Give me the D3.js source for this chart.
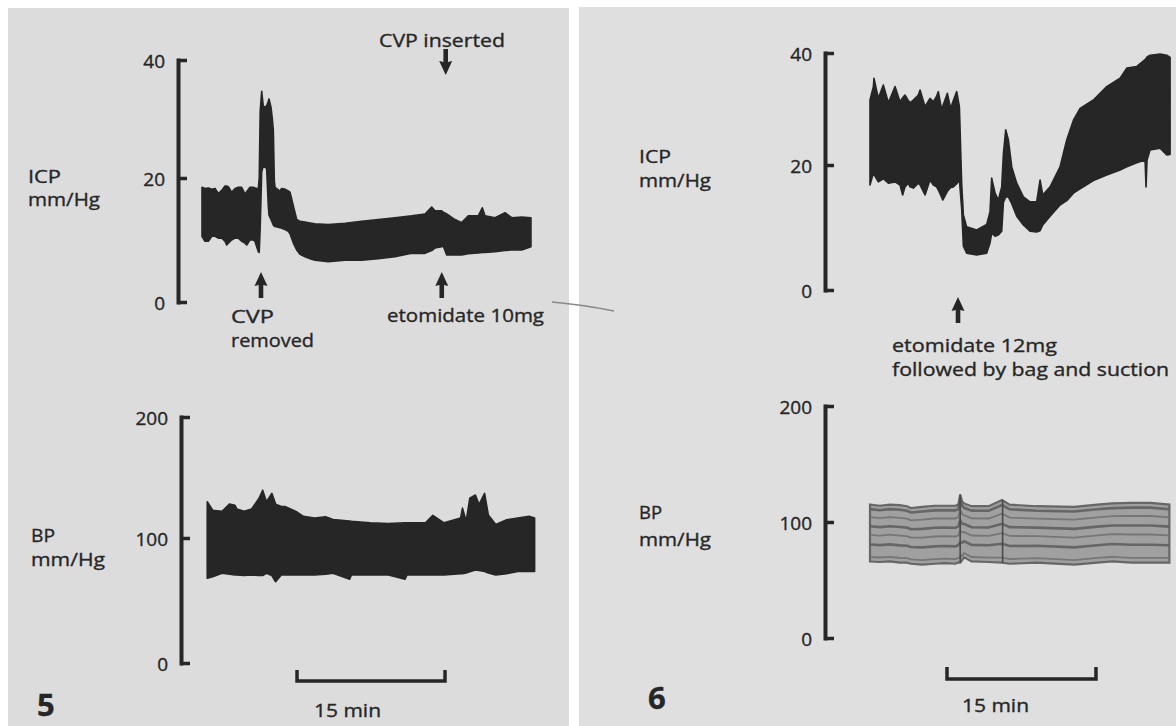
<!DOCTYPE html>
<html><head><meta charset="utf-8">
<script src="https://cdn.jsdelivr.net/npm/d3@7"></script>
<style>
body{margin:0;background:#fff}
svg{display:block}
text{font-family:"Open Sans","DejaVu Sans",sans-serif;fill:#262626;stroke:#262626;stroke-width:0.35px}
</style>
</head><body>
<svg id="c" width="1176" height="726"></svg>
<script>
// ---------------- DATA ----------------
const ICP_TICKS = [0, 20, 40];
const BP_TICKS = [0, 100, 200];
const SCALE_BAR_MIN = 15;

// Figure 5 – ICP envelope: [time (min), low, high] mm Hg
const icp5 = [
 [0.00,10.6,18.5],[0.30,9.8,18.3],[0.64,9.8,18.4],[1.00,10.6,18.2],[1.32,10.6,18.3],
 [1.65,10.3,17.5],[2.00,10.3,18.0],[2.33,9.8,18.7],[2.50,9.2,18.7],[2.67,9.5,18.6],
 [3.00,10.0,17.7],[3.35,10.3,18.3],[3.68,10.3,18.5],[4.02,9.8,18.5],[4.36,9.5,17.4],
 [4.53,9.2,17.8],[4.86,10.0,18.5],[5.20,10.0,18.5],[5.37,9.8,18.4],[5.54,8.9,18.3],
 [5.71,8.1,18.3],[5.80,8.0,20.0],[5.90,12.0,31.4],[6.05,21.0,34.7],[6.22,22.1,32.0],
 [6.55,21.6,32.2],[6.72,15.5,33.0],[6.79,14.0,33.4],[6.99,13.3,32.0],[7.13,12.8,30.0],
 [7.23,12.4,28.1],[7.33,12.2,19.5],[7.40,12.2,18.5],[7.90,12.0,17.9],[8.07,11.9,18.3],
 [8.41,11.7,18.2],[8.75,11.4,17.9],[8.92,11.0,17.7],[9.26,9.5,15.5],[9.60,8.4,13.3],
 [9.93,7.7,13.0],[10.44,7.3,12.9],[11.10,6.9,12.7],[11.45,6.75,12.6],[12.80,6.5,12.5],
 [14.49,6.75,12.7],[16.18,6.75,13.0],[17.87,7.0,13.3],[19.56,7.3,13.6],[21.25,7.85,13.9],
 [22.60,7.85,14.2],[23.28,8.3,15.3],[23.61,8.7,14.7],[24.29,8.9,14.7],[24.46,9.0,14.5],
 [24.80,7.6,14.2],[25.64,7.6,13.3],[26.32,7.6,12.8],[26.99,7.8,13.9],[28.00,7.9,13.9],
 [28.41,8.0,15.2],[28.68,8.0,13.9],[29.70,8.1,13.6],[30.71,8.3,14.4],[31.39,8.4,13.6],
 [32.40,8.4,13.7],[33.34,8.9,13.6]
];
// Figure 5 – BP envelope
const bp5 = [
 [0.53,67.8,130],[1.09,69,123],[2.03,71.8,122],[2.78,71,128],[3.34,70.5,127],
 [3.53,70.5,124],[4.27,70,122],[5.03,70.5,124],[5.78,70,132.8],[6.15,70,139.5],
 [6.53,71.8,130],[7.08,70,136.9],[7.46,65,128],[8.03,70.5,126],[8.40,70.5,126],
 [9.53,70.5,122],[10.27,70.5,117.9],[11.40,70.5,116.5],[12.53,71,117.5],[13.28,71.8,115.2],
 [14.96,67,114],[15.15,70.5,113.8],[17.03,70.5,112.5],[18.90,70.5,112],[20.58,67,112.5],
 [20.78,70.5,112.5],[22.65,70.5,112.5],[23.40,70.5,118.7],[24.53,70.5,112.5],[26.21,71.5,116.5],
 [26.40,71.5,124.7],[26.77,72,113.8],[27.14,73,132.8],[27.71,74.5,135.5],[28.08,74,127.7],
 [28.64,73.2,136.9],[29.02,72,119],[29.77,70.5,111.1],[30.89,71.5,115],[32.02,73.2,116.5],
 [33.14,73.2,117.9],[33.71,73.2,116.5]
];
// Figure 6 – ICP envelope
const icp6 = [
 [0.00,16.8,31.6],[0.34,18.7,34.0],[0.40,18.5,35.5],[0.84,17.3,31.9],[1.34,17.8,34.3],
 [1.85,17.1,31.1],[2.52,17.3,34.0],[3.02,16.8,31.3],[3.29,15.2,32.0],[3.52,16.5,32.5],
 [3.86,17.1,31.5],[4.03,16.5,31.1],[4.36,16.3,31.6],[4.87,17.1,32.5],[5.04,16.8,33.4],
 [5.54,15.2,30.4],[6.04,17.6,31.9],[6.38,16.8,31.3],[6.71,16.5,32.3],[6.88,16.0,33.1],
 [7.22,14.8,29.8],[7.32,14.4,30.5],[7.79,15.8,32.8],[8.12,16.4,30.1],[8.39,16.5,31.5],
 [8.73,17.0,33.1],[9.00,17.6,30.4],[9.23,13.0,17.0],[9.40,7.0,12.0],[9.73,5.9,10.1],
 [10.74,5.6,9.6],[11.75,5.9,10.5],[12.08,7.5,12.5],[12.25,9.1,17.9],[12.59,8.6,15.5],
 [12.92,8.8,14.4],[13.26,9.4,16.5],[13.43,14.0,22.0],[13.66,14.9,26.3],[13.93,14.9,24.5],
 [14.27,13.8,19.7],[14.77,11.8,17.1],[15.44,10.4,14.9],[16.11,9.4,14.1],[16.78,9.3,14.1],
 [17.12,9.5,17.6],[17.39,10.4,15.2],[18.13,11.8,16.5],[19.13,13.6,19.7],[19.81,14.3,24.5],
 [20.48,15.5,28.0],[21.15,16.2,30.1],[22.49,17.5,31.6],[23.83,18.4,34.0],[25.18,19.2,35.5],
 [25.85,19.7,37.3],[26.86,20.4,37.6],[27.69,20.9,38.8],[27.79,16.5,39.0],[27.89,20.9,39.3],
 [28.20,22.7,39.6],[29.20,23.0,39.8],[29.88,21.8,39.6],[30.21,21.9,39.2]
];
// Figure 6 – BP envelope
const bp6 = [
 [0.00,65.9,115],[1.00,65.5,114],[2.00,66,115],[3.00,65,114.5],[3.73,65,113.6],
 [4.11,64,112],[5.26,63.2,113],[6.50,64,114],[7.50,64.5,114],[8.60,64,114],
 [8.89,65,115],[9.08,65,123.6],[9.27,67,118],[9.47,69.5,116],[10.23,66,113.6],
 [11.95,65.5,113.6],[13.29,65,119],[14.06,64,115],[16.75,65,113.6],[20.57,63.2,113],
 [22.87,65,115],[24.40,66,116],[26.30,65,116.5],[28.23,65,116.5],[30.14,65,115]
];
const bp6Marks = [9.08, 13.35];

// event times (min)
const fig5Events = {cvpRemoved: 5.98, etomidate: 24.3, cvpInserted: 24.7};
const fig6Events = {etomidate: 8.86};
const scaleBar5Start = 9.63, scaleBar6Start = 7.75;

// ---------------- DRAWING ----------------
const svg = d3.select('#c');
const INK = '#262626';
svg.append('rect').attr('width',1176).attr('height',726).attr('fill','#fff');
svg.append('rect').attr('x',8).attr('y',8).attr('width',561).attr('height',718).attr('fill','#dcdcdc');
svg.append('rect').attr('x',579).attr('y',7).attr('width',597).attr('height',719).attr('fill','#dfdfdf');

// scales
const x5 = d3.scaleLinear().domain([0, SCALE_BAR_MIN]).range([202, 350]);
const x6 = d3.scaleLinear().domain([0, SCALE_BAR_MIN]).range([870, 1019]);
const yIcp5 = d3.scaleLinear().domain(ICP_TICKS).range([302,178,60]);
const yBp5  = d3.scaleLinear().domain(BP_TICKS).range([663,538,417]);
const yIcp6 = d3.scaleLinear().domain(ICP_TICKS).range([290,165,53]);
const yBp6  = d3.scaleLinear().domain(BP_TICKS).range([638,522,406]);

function txt(x, y, s, opts={}) {
  const t = svg.append('text').attr('x',x).attr('y',y).text(s)
    .attr('font-size', opts.size || 18.5)
    .attr('font-weight', opts.weight || 400);
  if (opts.len) t.attr('textLength', opts.len).attr('lengthAdjust','spacingAndGlyphs');
  if (opts.anchor) t.attr('text-anchor', opts.anchor);
  return t;
}

function axis(scale, ticks, xPos) {
  const g = svg.append('g').attr('transform',`translate(${xPos},0)`)
    .call(d3.axisRight(scale).tickValues(ticks).tickSize(9).tickSizeOuter(0).tickFormat(d3.format('d')));
  g.select('.domain').attr('stroke',INK).attr('stroke-width',4).attr('stroke-linecap','square');
  g.selectAll('.tick line').attr('stroke',INK).attr('stroke-width',3.5);
  g.selectAll('.tick text').attr('x',-13).attr('dy','0.42em').attr('text-anchor','end')
    .attr('font-size',19).attr('fill','#262626')
    .attr('font-family','"Open Sans","DejaVu Sans",sans-serif');
}

function trace(data, x, y, fill) {
  const area = d3.area().x(d=>x(d[0])).y0(d=>y(d[1])).y1(d=>y(d[2]));
  return svg.append('path').datum(data).attr('d',area)
    .attr('fill',fill).attr('stroke',fill).attr('stroke-width',1.6).attr('stroke-linejoin','round');
}

function arrow(x, tipY, up) {
  const s = up ? 1 : -1;
  const p = d3.path();
  p.moveTo(x, tipY);
  p.lineTo(x+6.5, tipY + s*14);
  p.lineTo(x+2.3, tipY + s*13);
  p.lineTo(x+2.3, tipY + s*26);
  p.lineTo(x-2.3, tipY + s*26);
  p.lineTo(x-2.3, tipY + s*13);
  p.lineTo(x-6.5, tipY + s*14);
  p.closePath();
  svg.append('path').attr('d',p.toString()).attr('fill',INK);
}

function scaleBar(x, t0, yTop, yBar) {
  const p = d3.path();
  p.moveTo(x(t0), yTop); p.lineTo(x(t0), yBar); p.lineTo(x(t0+SCALE_BAR_MIN), yBar); p.lineTo(x(t0+SCALE_BAR_MIN), yTop);
  svg.append('path').attr('d',p.toString()).attr('fill','none').attr('stroke',INK).attr('stroke-width',3.5);
}

// ---- Figure 5 ----
trace(icp5, x5, yIcp5, INK);
trace(bp5, x5, yBp5, INK);
axis(yIcp5, ICP_TICKS, 178);
axis(yBp5, BP_TICKS, 181);
txt(28,183,'ICP',{len:33});
txt(28,206,'mm/Hg',{len:72});
txt(31,542,'BP',{len:24});
txt(31,566,'mm/Hg',{len:74});
txt(379,47,'CVP inserted',{len:126});
arrow(x5(fig5Events.cvpInserted), 75, false);
arrow(x5(fig5Events.cvpRemoved), 272, true);
arrow(x5(fig5Events.etomidate), 272, true);
txt(231,323,'CVP',{len:43});
txt(231,347,'removed',{len:83});
txt(387,322,'etomidate 10mg',{len:157});
scaleBar(x5, scaleBar5Start, 670, 681);
txt(314,717,'15 min',{len:67});
txt(37,716,'5',{size:31,weight:700});

// ---- Figure 6 ----
const bpArea = d3.area().x(d=>x6(d[0])).y0(d=>yBp6(d[1])).y1(d=>yBp6(d[2]));
svg.append('path').datum(bp6).attr('d',bpArea).attr('fill','#a0a0a0').attr('stroke','#676767').attr('stroke-width',2.2);
[0.08,0.3,0.47,0.62,0.78,0.92].forEach((f,i)=>{
  const ln = d3.line().x(d=>x6(d[0])).y(d=>yBp6(d[1]+f*(d[2]-d[1])));
  svg.append('path').datum(bp6).attr('d',ln).attr('fill','none')
    .attr('stroke', i%2 ? '#5c5c5c' : '#6e6e6e').attr('stroke-width', i%2 ? 2.6 : 1.8).attr('opacity',0.85);
});
bp6Marks.forEach(t=>{
  const d = bp6.reduce((a,b)=>Math.abs(b[0]-t)<Math.abs(a[0]-t)?b:a);
  svg.append('line').attr('x1',x6(t)).attr('x2',x6(t)).attr('y1',yBp6(d[1])).attr('y2',yBp6(d[2]))
    .attr('stroke','#4a4a4a').attr('stroke-width',1.6);
});
trace(icp6, x6, yIcp6, INK);
axis(yIcp6, ICP_TICKS, 825);
axis(yBp6, BP_TICKS, 825);
txt(639,163,'ICP',{len:32});
txt(639,187,'mm/Hg',{len:72});
txt(639,519,'BP',{len:23});
txt(639,546,'mm/Hg',{len:72});
arrow(x6(fig6Events.etomidate), 297, true);
txt(892,352,'etomidate  12mg',{len:165});
txt(892,376,'followed by bag and suction',{len:277});
scaleBar(x6, scaleBar6Start, 667, 679);
txt(962,712,'15 min',{len:67});
txt(648,709,'6',{size:31,weight:700});

// scan artefact stroke across the gutter
svg.append('path').attr('d','M552,302 Q585,305 614,311').attr('fill','none')
  .attr('stroke','#8a8a8a').attr('stroke-width',1.4);
</script>
</body></html>
